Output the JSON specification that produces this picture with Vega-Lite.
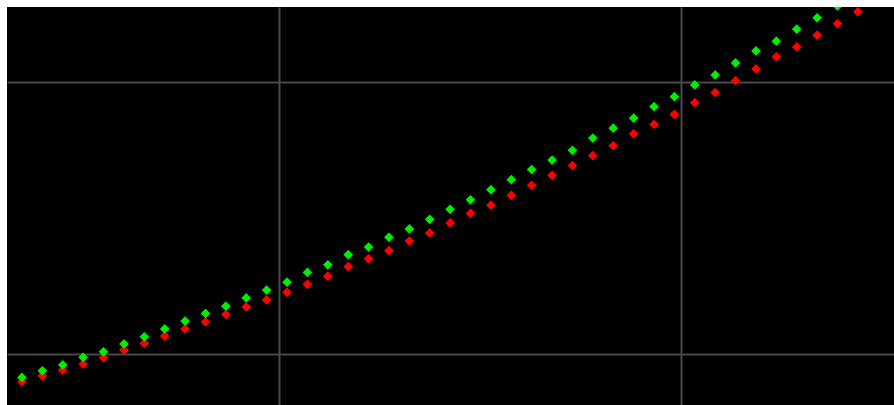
{
  "$schema": "https://vega.github.io/schema/vega-lite/v6.json",
  "width": 887,
  "height": 398,
  "autosize": {"type": "none"},
  "padding": {"left": 7, "top": 7, "right": 0, "bottom": 0},
  "background": "white",
  "config": {"view": {"fill": "black", "stroke": null}},
  "layer": [
    {
      "data": {"values": [
        {"i":0,"v":89.8},{"i":1,"v":92.0},{"i":2,"v":94.1},{"i":3,"v":96.3},{"i":4,"v":98.6},{"i":5,"v":101.5},{"i":6,"v":103.9},{"i":7,"v":106.6},{"i":8,"v":109.2},{"i":9,"v":111.8},{"i":10,"v":114.5},{"i":11,"v":117.3},{"i":12,"v":119.9},{"i":13,"v":122.7},{"i":14,"v":125.6},{"i":15,"v":128.6},{"i":16,"v":132.1},{"i":17,"v":135.0},{"i":18,"v":138.0},{"i":19,"v":141.5},{"i":20,"v":144.5},{"i":21,"v":148.2},{"i":22,"v":151.7},{"i":23,"v":154.7},{"i":24,"v":158.3},{"i":25,"v":162.0},{"i":26,"v":165.7},{"i":27,"v":169.3},{"i":28,"v":172.9},{"i":29,"v":176.6},{"i":30,"v":180.9},{"i":31,"v":184.4},{"i":32,"v":188.1},{"i":33,"v":192.4},{"i":34,"v":196.1},{"i":35,"v":200.5},{"i":36,"v":204.8},{"i":37,"v":209.2},{"i":38,"v":212.9},{"i":39,"v":217.2},{"i":40,"v":221.4},{"i":41,"v":225.8}
      ]},
      "mark": {"type": "point", "shape": "diamond", "filled": true, "size": 95, "opacity": 1, "color": "#ff0000", "clip": true},
      "encoding": {
        "x": {"field": "i", "type": "quantitative", "scale": {"domain": [-0.736, 42.77], "nice": false, "zero": false},
          "axis": {"values": [12.6, 32.32], "grid": true, "labels": false, "ticks": false, "domain": false, "title": null, "gridColor": "#4a4a4a", "gridWidth": 2, "gridOpacity": 1}},
        "y": {"field": "v", "type": "quantitative", "scale": {"domain": [81.25, 227.57], "nice": false, "zero": false},
          "axis": {"values": [100, 200], "grid": true, "labels": false, "ticks": false, "domain": false, "title": null, "gridColor": "#4a4a4a", "gridWidth": 2, "gridOpacity": 1}}
      }
    },
    {
      "data": {"values": [
        {"i":0,"v":91.4},{"i":1,"v":93.8},{"i":2,"v":96.0},{"i":3,"v":98.8},{"i":4,"v":100.8},{"i":5,"v":103.7},{"i":6,"v":106.3},{"i":7,"v":109.2},{"i":8,"v":112.1},{"i":9,"v":114.9},{"i":10,"v":117.6},{"i":11,"v":120.6},{"i":12,"v":123.5},{"i":13,"v":126.4},{"i":14,"v":130.0},{"i":15,"v":132.8},{"i":16,"v":136.5},{"i":17,"v":139.3},{"i":18,"v":142.9},{"i":19,"v":146.0},{"i":20,"v":149.5},{"i":21,"v":153.2},{"i":22,"v":156.7},{"i":23,"v":160.4},{"i":24,"v":164.1},{"i":25,"v":167.8},{"i":26,"v":171.3},{"i":27,"v":174.9},{"i":28,"v":179.4},{"i":29,"v":183.0},{"i":30,"v":186.7},{"i":31,"v":190.9},{"i":32,"v":194.6},{"i":33,"v":198.9},{"i":34,"v":202.6},{"i":35,"v":207.0},{"i":36,"v":211.4},{"i":37,"v":215.0},{"i":38,"v":219.4},{"i":39,"v":223.6},{"i":40,"v":227.9}
      ]},
      "mark": {"type": "point", "shape": "diamond", "filled": true, "size": 95, "opacity": 1, "color": "#00ee00", "clip": true},
      "encoding": {
        "x": {"field": "i", "type": "quantitative"},
        "y": {"field": "v", "type": "quantitative"}
      }
    }
  ]
}
